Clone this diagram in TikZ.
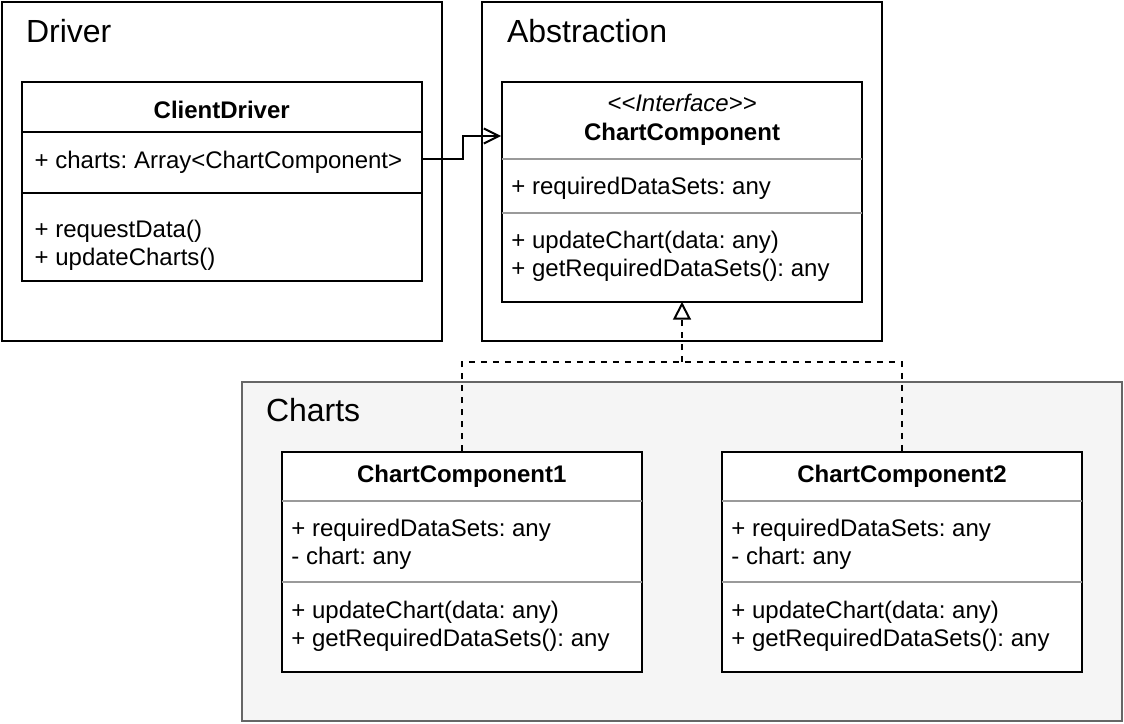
\documentclass[tikz,border=0pt]{standalone}
\usepackage{fontspec}
\setmainfont[Ligatures=NoCommon]{Liberation Sans}
\usetikzlibrary{arrows.meta}
\definecolor{divgray}{HTML}{9A9A9A}
\definecolor{framegray}{HTML}{666666}
\definecolor{chartsfill}{HTML}{F5F5F5}
\frenchspacing
\begin{document}
\begin{tikzpicture}[x=1pt,y=-1pt, line width=2pt,
  frame/.style={draw, rectangle, inner sep=0pt, line width=2pt},
  classbox/.style={draw, fill=white, rectangle, inner sep=0pt, line width=2pt},
  divider/.style={draw=divgray, line width=2pt},
  blackdivider/.style={draw=black, line width=2pt},
  member/.style={anchor=base west, inner sep=0pt, font=\fontsize{24}{28}\selectfont},
  classtitle/.style={anchor=base, inner sep=0pt, font=\bfseries\fontsize{24}{28}\selectfont},
  stereo/.style={anchor=base, inner sep=0pt, font=\itshape\fontsize{24}{28}\selectfont},
  grouplabel/.style={anchor=base west, inner sep=0pt, font=\fontsize{32}{36}\selectfont},
  assoc/.style={draw, line width=2pt, -{Straight Barb[length=15pt,width=15pt]}},
  realize/.style={draw, line width=2pt, dash pattern=on 6pt off 6pt},
  hollowtip/.style={draw, fill=white, line width=2pt, line join=miter, solid},
]
\useasboundingbox (0,0) rectangle (1124,723);
\fill[white] (0,0) rectangle (1124,723);

% frames
\node[frame, minimum width=439.5pt, minimum height=339pt] (driver) at (221.75,171.5) {};
\node[frame, minimum width=400pt, minimum height=339pt] (abstr) at (682,171.5) {};
\node[frame, draw=framegray, fill=chartsfill, minimum width=880pt, minimum height=339pt] (charts) at (682,551.5) {};

\node[grouplabel] (lbldriver) at (25,42.7) {Driver};
\node[grouplabel] (lblabstr) at (506,42.7) {Abstraction};
\node[grouplabel] (lblcharts) at (265,421.7) {Charts};

% ClientDriver
\node[classbox, minimum width=399.5pt, minimum height=199pt] (cd) at (221.75,181.5) {};
\draw[blackdivider] ([yshift=-51pt]cd.north west) -- ([yshift=-51pt]cd.north east);
\draw[blackdivider] ([yshift=-112pt]cd.north west) -- ([yshift=-112pt]cd.north east);
\node[classtitle] (cdt) at (221.75,118.3) {ClientDriver};
\node[member] (cda1) at (33.7,168.3) {+ charts: Array{<}ChartComponent{>}};
\node[member] (cdm1) at (33.7,237.3) {+ requestData()};
\node[member] (cdm2) at (33.7,265.3) {+ updateCharts()};

% ChartComponent interface
\node[classbox, minimum width=360pt, minimum height=219.5pt] (ci) at (682,191.75) {};
\draw[divider] ([xshift=1pt,yshift=-78pt]ci.north west) -- ([xshift=-1pt,yshift=-78pt]ci.north east);
\draw[divider] ([xshift=1pt,yshift=-132pt]ci.north west) -- ([xshift=-1pt,yshift=-132pt]ci.north east);
\node[stereo] (cis) at (682,111.7) {{<}{<}Interface{>}{>}};
\node[classtitle] (cit) at (682,140) {ChartComponent};
\node[member] (cia1) at (510.4,194) {+ requiredDataSets: any};
\node[member] (cim1) at (510.4,248.3) {+ updateChart(data: any)};
\node[member] (cim2) at (510.4,276.7) {+ getRequiredDataSets(): any};

% ChartComponent1
\node[classbox, minimum width=359.5pt, minimum height=219.5pt] (cc1) at (461.75,561.75) {};
\draw[divider] ([xshift=1pt,yshift=-50pt]cc1.north west) -- ([xshift=-1pt,yshift=-50pt]cc1.north east);
\draw[divider] ([xshift=1pt,yshift=-131pt]cc1.north west) -- ([xshift=-1pt,yshift=-131pt]cc1.north east);
\node[classtitle] (cc1t) at (461.75,482.7) {ChartComponent1};
\node[member] (cc1a1) at (290.4,536) {+ requiredDataSets: any};
\node[member] (cc1a2) at (290.4,564.3) {- chart: any};
\node[member] (cc1m1) at (290.4,618.3) {+ updateChart(data: any)};
\node[member] (cc1m2) at (290.4,646.6) {+ getRequiredDataSets(): any};

% ChartComponent2
\node[classbox, minimum width=360pt, minimum height=219.5pt] (cc2) at (902,561.75) {};
\draw[divider] ([xshift=1pt,yshift=-50pt]cc2.north west) -- ([xshift=-1pt,yshift=-50pt]cc2.north east);
\draw[divider] ([xshift=1pt,yshift=-131pt]cc2.north west) -- ([xshift=-1pt,yshift=-131pt]cc2.north east);
\node[classtitle] (cc2t) at (902,482.7) {ChartComponent2};
\node[member] (cc2a1) at (730.4,536) {+ requiredDataSets: any};
\node[member] (cc2a2) at (730.4,564.3) {- chart: any};
\node[member] (cc2m1) at (730.4,618.3) {+ updateChart(data: any)};
\node[member] (cc2m2) at (730.4,646.6) {+ getRequiredDataSets(): any};

% association
\coordinate (asrc) at ([yshift=-78pt]cd.north east);
\coordinate (atgt) at ([yshift=-55pt]ci.north west);
\draw[assoc] (asrc) -- ++(40,0) |- (atgt);

% realization
\coordinate (join) at (682,362);
\coordinate (tbase) at ([yshift=-16pt]ci.south);
\draw[realize] (cc1.north) |- (join) -| (cc2.north);
\draw[realize] (join) -- (tbase);
\draw[hollowtip] ([yshift=-1.5pt]ci.south) -- ([xshift=-7.5pt]tbase) -- ([xshift=7.5pt]tbase) -- cycle;
\end{tikzpicture}
\end{document}
